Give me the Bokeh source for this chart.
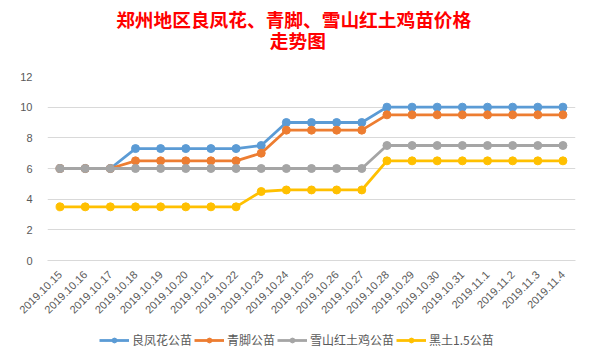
from bokeh.plotting import figure
from bokeh.models import Range1d, FactorRange, Legend, LegendItem, FixedTicker
from bokeh.layouts import column
from bokeh.core.properties import value
from bokeh.embed import file_html
from bokeh.resources import INLINE
import math

dates = ["2019.10.15", "2019.10.16", "2019.10.17", "2019.10.18", "2019.10.19",
         "2019.10.20", "2019.10.21", "2019.10.22", "2019.10.23", "2019.10.24",
         "2019.10.25", "2019.10.26", "2019.10.27", "2019.10.28", "2019.10.29",
         "2019.10.30", "2019.10.31", "2019.11.1", "2019.11.2", "2019.11.3", "2019.11.4"]

liangfenghua = [6, 6, 6, 7.3, 7.3, 7.3, 7.3, 7.3, 7.5, 9, 9, 9, 9, 10, 10, 10, 10, 10, 10, 10, 10]
qingjiao = [6, 6, 6, 6.5, 6.5, 6.5, 6.5, 6.5, 7, 8.5, 8.5, 8.5, 8.5, 9.5, 9.5, 9.5, 9.5, 9.5, 9.5, 9.5, 9.5]
xueshan = [6, 6, 6, 6, 6, 6, 6, 6, 6, 6, 6, 6, 6, 7.5, 7.5, 7.5, 7.5, 7.5, 7.5, 7.5, 7.5]
heitu = [3.5, 3.5, 3.5, 3.5, 3.5, 3.5, 3.5, 3.5, 4.5, 4.6, 4.6, 4.6, 4.6, 6.5, 6.5, 6.5, 6.5, 6.5, 6.5, 6.5, 6.5]

series_names = ["良凤花公苗", "青脚公苗", "雪山红土鸡公苗", "黑土1.5公苗"]
series_values = [liangfenghua, qingjiao, xueshan, heitu]
series_colors = ["#5B9BD5", "#ED7D31", "#A5A5A5", "#FFC000"]
y_ticks = [0, 2, 4, 6, 8, 10, 12]
title_lines = ["郑州地区良凤花、青脚、雪山红土鸡苗价格", "走势图"]

W = 577
TH = 68

# ---- title strip ----
tf = figure(width=W, height=TH, x_range=Range1d(0, W), y_range=Range1d(TH, 0),
            output_backend="svg", toolbar_location=None,
            x_axis_location=None, y_axis_location=None,
            min_border_left=0, min_border_right=0, min_border_top=0, min_border_bottom=0)
tf.grid.visible = False
tf.outline_line_color = None
tf.text(x=[75, 243], y=[18, 39], text=title_lines, text_align="left", text_baseline="middle",
        text_color="#FF0000", text_font=value("Noto Sans CJK SC"), text_font_size="18.7px",
        text_font_style="bold")

# ---- main chart ----
p = figure(x_range=FactorRange(*dates), y_range=Range1d(0, 12),
           width=W, height=258, output_backend="svg", toolbar_location=None,
           min_border_left=47, min_border_right=2, min_border_top=8, min_border_bottom=66)
p.outline_line_color = None

for name, vals, col in zip(series_names, series_values, series_colors):
    p.line(x=dates, y=vals, line_color=col, line_width=2.8)
    p.scatter(x=dates, y=vals, size=8, fill_color=col, line_color=col)

p.xgrid.visible = False
p.ygrid.grid_line_color = "#D9D9D9"
p.ygrid.grid_line_width = 1
p.yaxis.ticker = FixedTicker(ticks=y_ticks)
p.yaxis.axis_line_color = None
p.yaxis.major_tick_line_color = None
p.yaxis.minor_tick_line_color = None
p.yaxis.major_label_text_font = "Liberation Sans"
p.yaxis.major_label_text_font_size = "11px"
p.yaxis.major_label_text_color = "#595959"
p.yaxis.major_label_standoff = 9

p.xaxis.axis_line_color = "#D9D9D9"
p.xaxis.major_tick_line_color = None
p.xaxis.minor_tick_line_color = None
p.xaxis.major_tick_out = 0
p.xaxis.major_label_orientation = math.pi / 4
p.xaxis.major_label_text_font = "Liberation Sans"
p.xaxis.major_label_text_font_size = "11px"
p.xaxis.major_label_text_color = "#595959"
p.xaxis.major_label_standoff = 12

# ---- legend strip ----
lf = figure(width=W, height=27, x_range=Range1d(0, 1), y_range=Range1d(0, 1),
            output_backend="svg", toolbar_location=None,
            x_axis_location=None, y_axis_location=None,
            min_border_left=0, min_border_right=0, min_border_top=0, min_border_bottom=0)
lf.grid.visible = False
lf.outline_line_color = None
items = []
for name, col in zip(series_names, series_colors):
    lr = lf.line(x=[-10, -9], y=[-10, -9], line_color=col, line_width=2.8)
    sr = lf.scatter(x=[-10], y=[-10], size=8, fill_color=col, line_color=col)
    items.append(LegendItem(label=name, renderers=[lr, sr]))
legend = Legend(items=items, orientation="horizontal", location=(52, 5),
                label_text_font="Noto Sans CJK SC", label_text_font_size="12px",
                label_text_color="#595959", glyph_width=30, glyph_height=12,
                spacing=2, label_standoff=3, padding=2, margin=0,
                border_line_color=None, background_fill_color=None)
lf.add_layout(legend)

layout = column(tf, p, lf, spacing=0)
open("out.html", "w").write(file_html(layout, INLINE))
